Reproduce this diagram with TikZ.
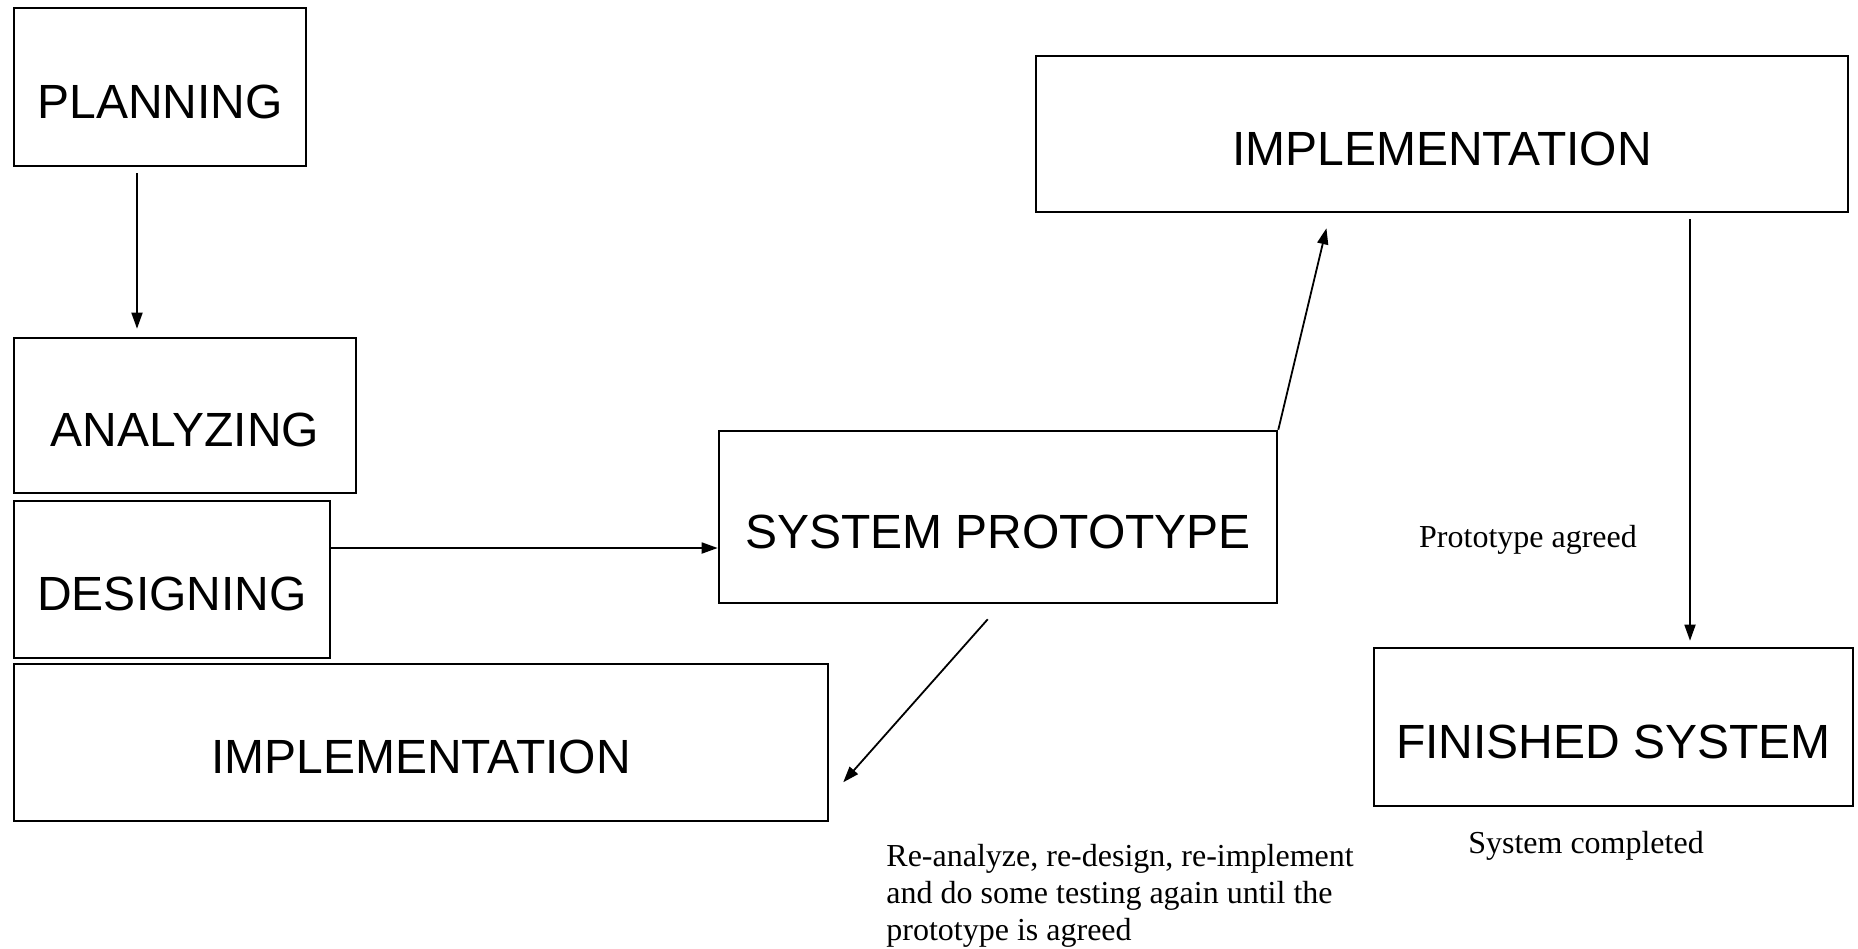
\documentclass[tikz,border=0pt]{standalone}
\usepackage{fontspec}
\setmainfont{Liberation Serif}
\newfontfamily\stagefont{Liberation Sans}
\usetikzlibrary{arrows.meta}
\tikzset{
  stage/.style={draw, line width=1.3pt, inner sep=0pt,
    font=\stagefont\fontsize{24}{28}\selectfont, text height=31pt, text depth=0pt},
  note/.style={font=\fontsize{16}{18.5}\selectfont, align=left, inner sep=0pt},
  flow/.style={-{Triangle[length=8pt,width=5.5pt]}, line width=0.9pt}
}

\begin{document}
\begin{tikzpicture}[x=0.5pt, y=-0.5pt]
  \useasboundingbox (0,0) rectangle (1858,948);
  % stages of the prototyping cycle
  \node[stage, minimum width=146pt, minimum height=79pt] at (160, 87) (plan) {PLANNING};
  \node[stage, minimum width=171pt, minimum height=77.5pt] at (185, 415.5) (analyze) {ANALYZING};
  \node[stage, minimum width=158pt, minimum height=78.5pt] at (172, 579.5) (design) {DESIGNING};
  \node[stage, minimum width=407pt, minimum height=78.5pt] at (421, 742.5) (implLow) {IMPLEMENTATION};
  \node[stage, minimum width=279pt, minimum height=86pt] at (998, 517) (proto) {SYSTEM PROTOTYPE};
  \node[stage, minimum width=406pt, minimum height=78pt] at (1442, 134) (implTop) {IMPLEMENTATION};
  \node[stage, minimum width=239.5pt, minimum height=79pt] at (1613.5, 727) (finished) {FINISHED SYSTEM};

  % remarks
  \node[note] at (1528, 540) (agreed) {Prototype agreed};
  \node[note] at (1586, 846) (done) {System completed};
  \node[note, anchor=north west] at (886, 844) (redo) {Re-analyze, re-design, re-implement\\and do some testing again until the\\prototype is agreed};

  % arrows
  \draw[flow, shorten <=3pt, shorten >=4pt] (plan.south -| 137,0) -- (analyze.north -| 137,0);
  \draw[flow] (design.east |- 0,548) -- (proto.west |- 0,548);
  \draw[flow, shorten <=10pt, shorten >=10.5pt] (proto.south -| 1001,0) -- (implLow.east |- 0,798);
  \draw[flow, shorten >=7.7pt] (proto.north east) -- (implTop.south -| 1330,0);
  \draw[flow, shorten <=3pt, shorten >=3pt] (implTop.south -| 1690,0) -- (finished.north -| 1690,0);
\end{tikzpicture}
\end{document}
